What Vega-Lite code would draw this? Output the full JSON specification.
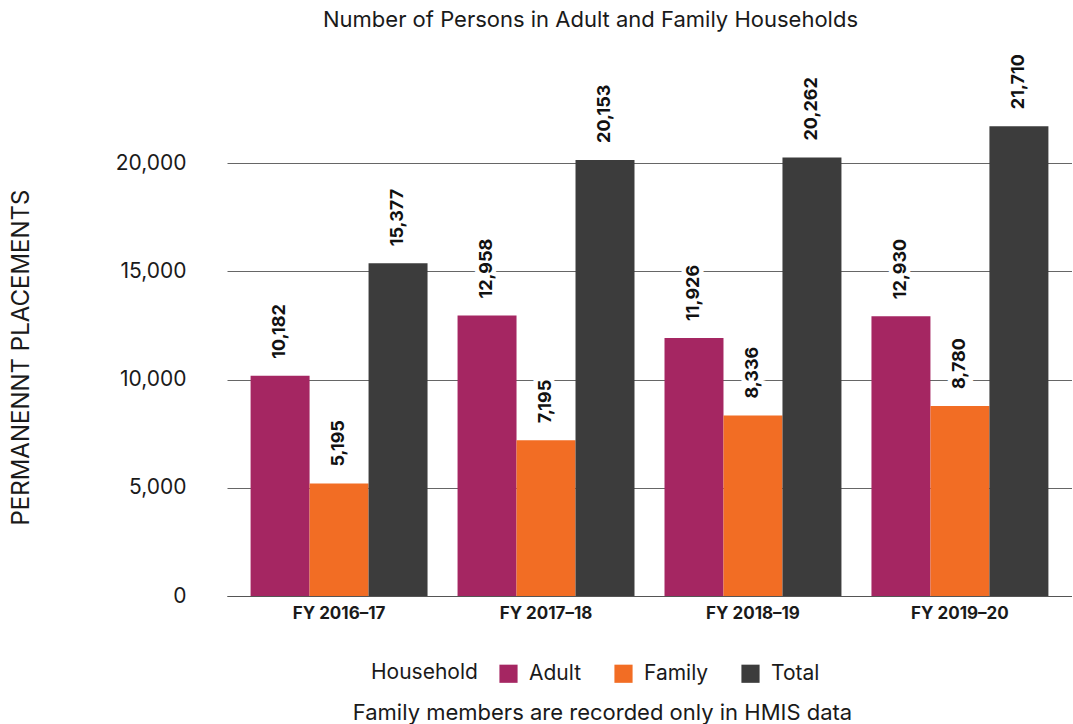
{
  "$schema": "https://vega.github.io/schema/vega-lite/v6.json",
  "width": 845,
  "height": 541,
  "padding": {"left": 9, "right": 0, "top": 8, "bottom": 5},
  "background": "white",
  "config": {
    "font": "Inter",
    "view": {"stroke": null},
    "axis": {"labelColor": "#1a1a1a", "titleColor": "#1a1a1a", "labelFont": "Inter", "titleFont": "Inter"},
    "legend": {"labelColor": "#1a1a1a", "titleColor": "#1a1a1a", "labelFont": "Inter", "titleFont": "Inter"}
  },
  "title": {
    "text": "Family members are recorded only in HMIS data",
    "orient": "bottom",
    "anchor": "middle",
    "fontSize": 22,
    "font": "Inter",
    "fontWeight": "normal",
    "color": "#1a1a1a",
    "offset": 19,
    "dx": -47
  },
  "data": {
    "values": [
      {"year": "FY 2016\u201317", "household": "Adult", "value": 10182},
      {"year": "FY 2016\u201317", "household": "Family", "value": 5195},
      {"year": "FY 2016\u201317", "household": "Total", "value": 15377},
      {"year": "FY 2017\u201318", "household": "Adult", "value": 12958},
      {"year": "FY 2017\u201318", "household": "Family", "value": 7195},
      {"year": "FY 2017\u201318", "household": "Total", "value": 20153},
      {"year": "FY 2018\u201319", "household": "Adult", "value": 11926},
      {"year": "FY 2018\u201319", "household": "Family", "value": 8336},
      {"year": "FY 2018\u201319", "household": "Total", "value": 20262},
      {"year": "FY 2019\u201320", "household": "Adult", "value": 12930},
      {"year": "FY 2019\u201320", "household": "Family", "value": 8780},
      {"year": "FY 2019\u201320", "household": "Total", "value": 21710}
    ]
  },
  "layer": [
    {
      "mark": {"type": "bar"},
      "encoding": {
        "x": {
          "field": "year", "type": "nominal", "sort": null,
          "scale": {"paddingInner": 0.145, "paddingOuter": 0.114},
          "axis": {
            "title": null, "labelAngle": 0, "labelFontSize": 17, "labelFontWeight": "bold",
            "ticks": false, "domain": true, "domainColor": "#555555", "labelPadding": 9
          }
        },
        "xOffset": {"field": "household", "type": "nominal", "sort": ["Adult", "Family", "Total"]},
        "y": {
          "field": "value", "type": "quantitative",
          "scale": {"domain": [0, 25000], "nice": false},
          "axis": {
            "values": [0, 5000, 10000, 15000, 20000], "format": ",.0f",
            "title": "PERMANENNT PLACEMENTS", "titleFontSize": 24, "titleFontWeight": "normal",
            "titlePadding": 82, "titleY": 302, "labelFontSize": 21, "labelPadding": 41,
            "ticks": false, "domain": false, "grid": true, "gridColor": "#666666", "gridWidth": 1
          }
        },
        "color": {
          "field": "household", "type": "nominal",
          "scale": {"domain": ["Adult", "Family", "Total"], "range": ["#a52662", "#f26d24", "#3c3c3c"]},
          "legend": {
            "title": "Household", "orient": "none", "legendX": 144, "legendY": 608, "direction": "horizontal",
            "titleOrient": "left", "titleFontSize": 21, "titleFontWeight": "normal", "titlePadding": 20,
            "labelFontSize": 21, "symbolType": "square", "symbolSize": 330, "symbolStrokeWidth": 0,
            "labelOffset": 10, "columnPadding": 31
          }
        }
      }
    },
    {
      "mark": {"type": "text", "angle": 270, "align": "left", "baseline": "middle", "dx": 17,
               "font": "Inter", "fontSize": 18, "fontWeight": "bold", "fill": "white", "stroke": "white", "strokeWidth": 9},
      "encoding": {
        "x": {"field": "year", "type": "nominal", "sort": null, "axis": null},
        "xOffset": {"field": "household", "type": "nominal", "sort": ["Adult", "Family", "Total"]},
        "y": {"field": "value", "type": "quantitative"},
        "text": {"field": "value", "type": "quantitative", "format": ",.0f"}
      }
    },
    {
      "mark": {"type": "text", "angle": 270, "align": "left", "baseline": "middle", "dx": 17,
               "font": "Inter", "fontSize": 18, "fontWeight": "bold", "fill": "#111111"},
      "encoding": {
        "x": {
          "field": "year", "type": "nominal", "sort": null,
          "axis": {
            "orient": "top", "labels": false, "ticks": false, "domain": false, "grid": false,
            "title": "Number of Persons in Adult and Family Households",
            "titleFontSize": 22, "titleFontWeight": "normal", "titlePadding": 24, "titleX": 363
          }
        },
        "xOffset": {"field": "household", "type": "nominal", "sort": ["Adult", "Family", "Total"]},
        "y": {"field": "value", "type": "quantitative"},
        "text": {"field": "value", "type": "quantitative", "format": ",.0f"}
      }
    }
  ],
  "resolve": {"axis": {"x": "independent"}}
}
